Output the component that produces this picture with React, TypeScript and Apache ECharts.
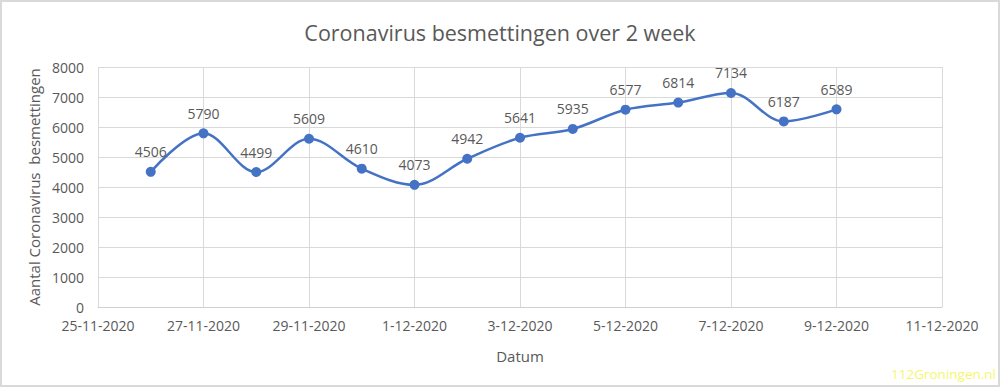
import React, { useEffect, useRef } from "react";
import * as echarts from "echarts";

const title = "Coronavirus besmettingen over 2 week";
const yAxisTitle = "Aantal Coronavirus  besmettingen";
const xAxisTitle = "Datum";
const watermark = "112Groningen.nl";

const dates = [
  "26-11-2020", "27-11-2020", "28-11-2020", "29-11-2020", "30-11-2020",
  "1-12-2020", "2-12-2020", "3-12-2020", "4-12-2020", "5-12-2020",
  "6-12-2020", "7-12-2020", "8-12-2020", "9-12-2020",
];
const cases = [4506, 5790, 4499, 5609, 4610, 4073, 4942, 5641, 5935, 6577, 6814, 7134, 6187, 6589];

const axisStartDate = "25-11-2020";
const axisEndDate = "11-12-2020";
const dayStep = 2;
const yMin = 0;
const yMax = 8000;
const yStep = 1000;

const DAY = 86400000;
function parseDate(s: string): number {
  const [d, m, y] = s.split("-").map(Number);
  return Date.UTC(y, m - 1, d);
}
function fmtDate(t: number): string {
  const dt = new Date(t);
  return `${dt.getUTCDate()}-${dt.getUTCMonth() + 1}-${dt.getUTCFullYear()}`;
}
const t0 = parseDate(axisStartDate);
const offsets = dates.map((d) => Math.round((parseDate(d) - t0) / DAY));
const maxOffset = Math.round((parseDate(axisEndDate) - t0) / DAY);

const GREY = "#595959";
const FONT = "'Open Sans', 'Noto Sans', sans-serif";

export default function App() {
  const ref = useRef<HTMLDivElement>(null);
  useEffect(() => {
    if (!ref.current) return;
    const chart = echarts.init(ref.current, undefined, { renderer: "svg" });
    chart.setOption({
      animation: false,
      backgroundColor: "#ffffff",
      textStyle: { fontFamily: FONT },
      title: {
        text: title,
        left: "center",
        top: 16,
        textStyle: { fontSize: 21.5, fontWeight: "normal", color: GREY, fontFamily: FONT },
      },
      grid: { left: 98, right: 58, top: 67, bottom: 80, containLabel: false },
      xAxis: {
        type: "value",
        min: 0,
        max: maxOffset,
        interval: dayStep,
        name: xAxisTitle,
        nameLocation: "middle",
        nameGap: 41,
        nameTextStyle: { fontSize: 15, color: GREY, fontFamily: FONT },
        axisLine: { show: true, lineStyle: { color: "#d0d0d0", width: 1 } },
        axisTick: { show: false },
        axisLabel: {
          color: GREY,
          fontSize: 14,
          margin: 11,
          fontFamily: FONT,
          formatter: (v: number) => fmtDate(t0 + v * DAY),
        },
        splitLine: { show: true, lineStyle: { color: "#d9d9d9", width: 1 } },
      },
      yAxis: {
        type: "value",
        min: yMin,
        max: yMax,
        interval: yStep,
        name: yAxisTitle,
        nameLocation: "middle",
        nameGap: 52,
        nameTextStyle: { fontSize: 15, color: GREY, fontFamily: FONT },
        axisLine: { show: false },
        axisTick: { show: false },
        axisLabel: {
          color: GREY,
          fontSize: 14,
          margin: 14,
          fontFamily: FONT,
          formatter: (v: number) => String(v),
        },
        splitLine: { show: true, lineStyle: { color: "#d9d9d9", width: 1 } },
      },
      series: [
        {
          type: "line",
          data: offsets.map((o, i) => [o, cases[i]]),
          smooth: 0.35,
          symbol: "circle",
          symbolSize: 10,
          itemStyle: { color: "#4472C4" },
          lineStyle: { color: "#4472C4", width: 2.5 },
          label: {
            show: true,
            position: "top",
            distance: 8,
            color: GREY,
            fontSize: 14,
            fontFamily: FONT,
          },
        },
      ],
      graphic: [
        {
          type: "rect",
          shape: { x: 1, y: 1, width: 998, height: 385 },
          style: { fill: "none", stroke: "#d9d9d9", lineWidth: 2 },
          silent: true,
        },
        {
          type: "text",
          right: 4,
          bottom: 6,
          style: { text: watermark, fill: "#f6f66e", fontSize: 13.5, fontFamily: FONT },
          silent: true,
        },
      ],
    });
    return () => chart.dispose();
  }, []);
  return (
    <div
      ref={ref}
      style={{ position: "fixed", left: 0, top: 0, width: 1000, height: 387 }}
    />
  );
}
